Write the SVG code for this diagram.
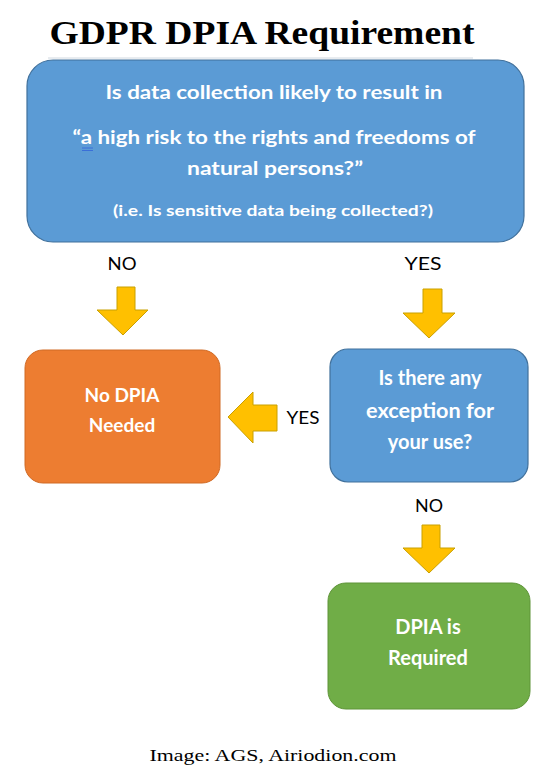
<svg xmlns="http://www.w3.org/2000/svg" width="550" height="778" viewBox="0 0 550 778">
<style>
.t{font-family:Lato,"Open Sans","Liberation Sans",sans-serif;font-weight:bold;fill:#fff;text-anchor:middle}
.lbl{font-family:Lato,"Open Sans","Liberation Sans",sans-serif;font-size:18px;fill:#000;text-anchor:middle}
.arr{fill:#FFC000;stroke:#C9A000;stroke-width:1;stroke-linejoin:miter}
</style>
<rect width="550" height="778" fill="#fff"/>
<text x="262" y="44" font-family="'Liberation Serif',serif" font-weight="bold" font-size="34" text-anchor="middle" textLength="425" lengthAdjust="spacingAndGlyphs">GDPR DPIA Requirement</text>
<line x1="48" y1="58" x2="473" y2="58" stroke="#D0D8E0" stroke-width="1"/>

<g id="q1">
<rect x="27" y="60" width="497" height="182" rx="26" fill="#5B9BD5" stroke="#41719C" stroke-width="1.2"/>
<text class="t" x="274" y="99" font-size="19" textLength="337" lengthAdjust="spacingAndGlyphs">Is data collection likely to result in</text>
<text class="t" x="274" y="144" font-size="19" textLength="403" lengthAdjust="spacingAndGlyphs">“a high risk to the rights and freedoms of</text>
<text class="t" x="275" y="175" font-size="19" textLength="176" lengthAdjust="spacingAndGlyphs">natural persons?”</text>
<text class="t" x="273" y="216" font-size="14.5" textLength="320" lengthAdjust="spacingAndGlyphs">(i.e. Is sensitive data being collected?)</text>
<line x1="82" y1="148" x2="93" y2="148" stroke="#3A6FD8" stroke-width="1"/>
<line x1="82" y1="150.5" x2="93" y2="150.5" stroke="#3A6FD8" stroke-width="1"/>
</g>

<g id="no-dpia">
<rect x="25" y="350" width="195" height="133" rx="18" fill="#ED7D31" stroke="#D06A25" stroke-width="1"/>
<text class="t" x="122" y="402" font-size="19">No DPIA</text>
<text class="t" x="122" y="432" font-size="19">Needed</text>
</g>

<g id="q2">
<rect x="330" y="349" width="198" height="133" rx="18" fill="#5B9BD5" stroke="#41719C" stroke-width="1.2"/>
<text class="t" x="430" y="385" font-size="20">Is there any</text>
<text class="t" x="430" y="418" font-size="20" textLength="128" lengthAdjust="spacingAndGlyphs">exception for</text>
<text class="t" x="430" y="449" font-size="20">your use?</text>
</g>

<g id="required">
<rect x="328" y="583" width="202" height="126" rx="18" fill="#70AD47" stroke="#5E9438" stroke-width="1"/>
<text class="t" x="428" y="634" font-size="20">DPIA is</text>
<text class="t" x="428" y="665" font-size="20">Required</text>
</g>

<g id="connectors">
<text class="lbl" x="122" y="270" textLength="29" lengthAdjust="spacingAndGlyphs">NO</text>
<text class="lbl" x="423" y="270" textLength="37" lengthAdjust="spacingAndGlyphs">YES</text>
<path class="arr" d="M117,287 H135 V310 H148 L123,335 L97,310 H117 Z"/>
<path class="arr" d="M423,289 H442 V313 H455 L429,338 L403,313 H423 Z"/>
<path class="arr" d="M277,405 V431 H253 V443 L228,417 L253,392 V405 Z"/>
<text class="lbl" x="303" y="424" textLength="33" lengthAdjust="spacingAndGlyphs">YES</text>
<text class="lbl" x="429" y="512" textLength="28" lengthAdjust="spacingAndGlyphs">NO</text>
<path class="arr" d="M422,525 H440 V548 H455 L429,573 L403,548 H422 Z"/>
</g>

<text x="273" y="761" font-family="'Liberation Serif',serif" font-size="17" text-anchor="middle" textLength="247" lengthAdjust="spacingAndGlyphs">Image: AGS, Airiodion.com</text>
</svg>
